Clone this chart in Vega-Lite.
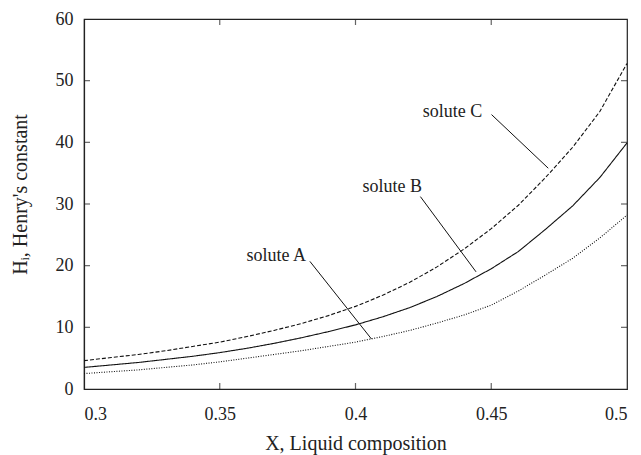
{
  "$schema": "https://vega.github.io/schema/vega-lite/v6.json",
  "width": 543,
  "height": 370,
  "autosize": "none",
  "padding": {"left": 84, "top": 19, "right": 14, "bottom": 66},
  "background": "white",
  "config": {
    "font": "Liberation Serif",
    "view": {"stroke": "#222", "strokeWidth": 1.2},
    "axis": {
      "grid": false,
      "ticks": false,
      "domainColor": "#222",
      "domainWidth": 1.2,
      "labelFont": "Liberation Serif",
      "labelFontSize": 18,
      "labelColor": "#222",
      "titleFont": "Liberation Serif",
      "titleFontWeight": "normal",
      "titleColor": "#222"
    }
  },
  "datasets": {
    "curves": [
      {"x": 0.30, "H": 2.5, "solute": "A"},
      {"x": 0.31, "H": 2.8, "solute": "A"},
      {"x": 0.32, "H": 3.1, "solute": "A"},
      {"x": 0.33, "H": 3.5, "solute": "A"},
      {"x": 0.34, "H": 3.9, "solute": "A"},
      {"x": 0.35, "H": 4.4, "solute": "A"},
      {"x": 0.36, "H": 5.0, "solute": "A"},
      {"x": 0.37, "H": 5.6, "solute": "A"},
      {"x": 0.38, "H": 6.2, "solute": "A"},
      {"x": 0.39, "H": 6.9, "solute": "A"},
      {"x": 0.40, "H": 7.6, "solute": "A"},
      {"x": 0.41, "H": 8.5, "solute": "A"},
      {"x": 0.42, "H": 9.5, "solute": "A"},
      {"x": 0.43, "H": 10.7, "solute": "A"},
      {"x": 0.44, "H": 12.0, "solute": "A"},
      {"x": 0.45, "H": 13.6, "solute": "A"},
      {"x": 0.46, "H": 15.9, "solute": "A"},
      {"x": 0.47, "H": 18.5, "solute": "A"},
      {"x": 0.48, "H": 21.2, "solute": "A"},
      {"x": 0.49, "H": 24.5, "solute": "A"},
      {"x": 0.50, "H": 28.2, "solute": "A"},
      {"x": 0.30, "H": 3.5, "solute": "B"},
      {"x": 0.31, "H": 3.9, "solute": "B"},
      {"x": 0.32, "H": 4.3, "solute": "B"},
      {"x": 0.33, "H": 4.8, "solute": "B"},
      {"x": 0.34, "H": 5.3, "solute": "B"},
      {"x": 0.35, "H": 5.9, "solute": "B"},
      {"x": 0.36, "H": 6.6, "solute": "B"},
      {"x": 0.37, "H": 7.4, "solute": "B"},
      {"x": 0.38, "H": 8.3, "solute": "B"},
      {"x": 0.39, "H": 9.3, "solute": "B"},
      {"x": 0.40, "H": 10.4, "solute": "B"},
      {"x": 0.41, "H": 11.7, "solute": "B"},
      {"x": 0.42, "H": 13.2, "solute": "B"},
      {"x": 0.43, "H": 15.0, "solute": "B"},
      {"x": 0.44, "H": 17.1, "solute": "B"},
      {"x": 0.45, "H": 19.5, "solute": "B"},
      {"x": 0.46, "H": 22.3, "solute": "B"},
      {"x": 0.47, "H": 25.9, "solute": "B"},
      {"x": 0.48, "H": 29.7, "solute": "B"},
      {"x": 0.49, "H": 34.3, "solute": "B"},
      {"x": 0.50, "H": 39.9, "solute": "B"},
      {"x": 0.30, "H": 4.6, "solute": "C"},
      {"x": 0.31, "H": 5.1, "solute": "C"},
      {"x": 0.32, "H": 5.6, "solute": "C"},
      {"x": 0.33, "H": 6.2, "solute": "C"},
      {"x": 0.34, "H": 6.9, "solute": "C"},
      {"x": 0.35, "H": 7.6, "solute": "C"},
      {"x": 0.36, "H": 8.5, "solute": "C"},
      {"x": 0.37, "H": 9.5, "solute": "C"},
      {"x": 0.38, "H": 10.6, "solute": "C"},
      {"x": 0.39, "H": 11.9, "solute": "C"},
      {"x": 0.40, "H": 13.4, "solute": "C"},
      {"x": 0.41, "H": 15.2, "solute": "C"},
      {"x": 0.42, "H": 17.3, "solute": "C"},
      {"x": 0.43, "H": 19.8, "solute": "C"},
      {"x": 0.44, "H": 22.7, "solute": "C"},
      {"x": 0.45, "H": 26.0, "solute": "C"},
      {"x": 0.46, "H": 29.8, "solute": "C"},
      {"x": 0.47, "H": 34.3, "solute": "C"},
      {"x": 0.48, "H": 39.2, "solute": "C"},
      {"x": 0.49, "H": 45.0, "solute": "C"},
      {"x": 0.50, "H": 52.8, "solute": "C"}
    ],
    "labels": [
      {"x": 0.3708, "y": 21.6, "label": "solute A"},
      {"x": 0.4135, "y": 32.8, "label": "solute B"},
      {"x": 0.4357, "y": 45.0, "label": "solute C"}
    ],
    "leaders": [
      {"x": 0.3832, "y": 20.7, "x2": 0.4059, "y2": 8.1},
      {"x": 0.4239, "y": 31.2, "x2": 0.4444, "y2": 19.0},
      {"x": 0.4501, "y": 44.5, "x2": 0.4710, "y2": 35.8}
    ],
    "xticks": [{"v": 0.35}, {"v": 0.4}, {"v": 0.45}],
    "yticks": [{"v": 10}, {"v": 20}, {"v": 30}, {"v": 40}, {"v": 50}]
  },
  "layer": [
    {
      "data": {"name": "curves"},
      "mark": {"type": "line", "color": "#111", "strokeWidth": 1.1},
      "encoding": {
        "x": {
          "field": "x", "type": "quantitative",
          "scale": {"domain": [0.3, 0.5], "nice": false, "zero": false},
          "axis": {
            "orient": "bottom",
            "values": [0.3, 0.35, 0.4, 0.45, 0.5],
            "format": "~g",
            "labelFont": "Liberation Serif",
            "labelFontSize": 18,
            "labelPadding": 16,
            "title": "X, Liquid composition",
            "titleFontSize": 20,
            "titleY": 54,
            "titleBaseline": "middle"
          }
        },
        "y": {
          "field": "H", "type": "quantitative",
          "scale": {"domain": [0, 60], "nice": false, "zero": true},
          "axis": {
            "orient": "left",
            "values": [0, 10, 20, 30, 40, 50, 60],
            "labelFont": "Liberation Serif",
            "labelFontSize": 18,
            "labelPadding": 11,
            "title": "Hᵢ, Henry's constant",
            "titleFontSize": 20,
            "titleX": -64,
            "titleY": 175,
            "titleBaseline": "middle",
            "titleAngle": -90
          }
        },
        "strokeDash": {
          "field": "solute", "type": "nominal",
          "scale": {"domain": ["A", "B", "C"], "range": [[1, 1.5], [1, 0], [4, 2]]},
          "legend": null
        }
      }
    },
    {
      "data": {"name": "leaders"},
      "mark": {"type": "rule", "color": "#111", "strokeWidth": 1},
      "encoding": {
        "x": {"field": "x", "type": "quantitative"},
        "y": {"field": "y", "type": "quantitative"},
        "x2": {"field": "x2"},
        "y2": {"field": "y2"}
      }
    },
    {
      "data": {"name": "labels"},
      "mark": {"type": "text", "font": "Liberation Serif", "fontSize": 18, "color": "#222", "align": "center", "baseline": "middle"},
      "encoding": {
        "x": {"field": "x", "type": "quantitative"},
        "y": {"field": "y", "type": "quantitative"},
        "text": {"field": "label"}
      }
    },
    {
      "data": {"name": "xticks"},
      "mark": {"type": "tick", "orient": "vertical", "size": 6, "thickness": 1.2, "color": "#222", "yOffset": -3},
      "encoding": {
        "x": {"field": "v", "type": "quantitative"},
        "y": {"datum": 0, "type": "quantitative"}
      }
    },
    {
      "data": {"name": "xticks"},
      "mark": {"type": "tick", "orient": "vertical", "size": 6, "thickness": 1.2, "color": "#222", "yOffset": 3},
      "encoding": {
        "x": {"field": "v", "type": "quantitative"},
        "y": {"datum": 60, "type": "quantitative"}
      }
    },
    {
      "data": {"name": "yticks"},
      "mark": {"type": "tick", "orient": "horizontal", "size": 6, "thickness": 1.2, "color": "#222", "xOffset": 3},
      "encoding": {
        "y": {"field": "v", "type": "quantitative"},
        "x": {"datum": 0.3, "type": "quantitative"}
      }
    },
    {
      "data": {"name": "yticks"},
      "mark": {"type": "tick", "orient": "horizontal", "size": 6, "thickness": 1.2, "color": "#222", "xOffset": -3},
      "encoding": {
        "y": {"field": "v", "type": "quantitative"},
        "x": {"datum": 0.5, "type": "quantitative"}
      }
    }
  ]
}
